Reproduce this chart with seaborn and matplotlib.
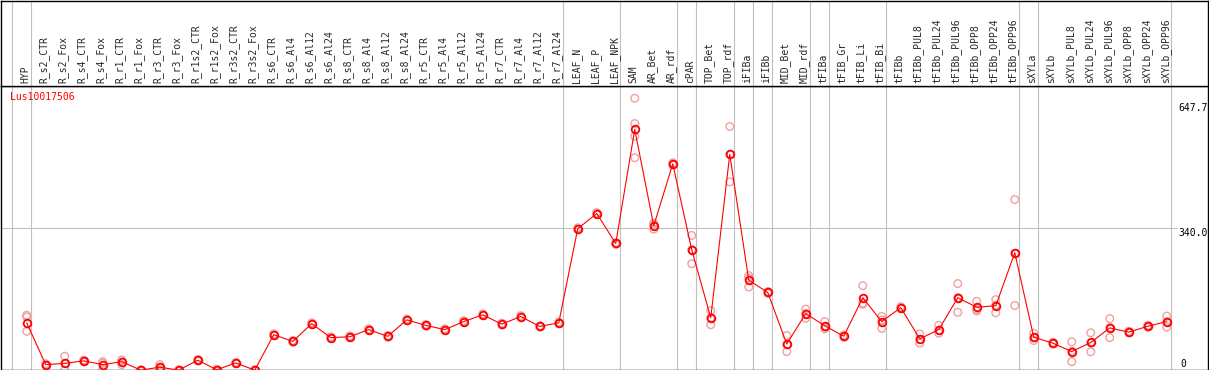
import numpy as np
import pandas as pd
import matplotlib
matplotlib.use("Agg")
import matplotlib.pyplot as plt
import seaborn as sns

# ---- data ----
gene = "Lus10017506"

samples = [
    "HYP", "R_s2_CTR", "R_s2_Fox", "R_s4_CTR", "R_s4_Fox", "R_r1_CTR", "R_r1_Fox",
    "R_r3_CTR", "R_r3_Fox", "R_r1s2_CTR", "R_r1s2_Fox", "R_r3s2_CTR", "R_r3s2_Fox",
    "R_s6_CTR", "R_s6_Al4", "R_s6_Al12", "R_s6_Al24", "R_s8_CTR", "R_s8_Al4",
    "R_s8_Al12", "R_s8_Al24", "R_r5_CTR", "R_r5_Al4", "R_r5_Al12", "R_r5_Al24",
    "R_r7_CTR", "R_r7_Al4", "R_r7_Al12", "R_r7_Al24", "LEAF_N", "LEAF_P", "LEAF_NPK",
    "SAM", "AR_Bet", "AR_rdf", "cPAR", "TOP_Bet", "TOP_rdf", "iFIBa", "iFIBb",
    "MID_Bet", "MID_rdf", "tFIBa", "tFIB_Gr", "tFIB_Li", "tFIB_Bi", "tFIBb",
    "tFIBb_PUL8", "tFIBb_PUL24", "tFIBb_PUL96", "tFIBb_OPP8", "tFIBb_OPP24",
    "tFIBb_OPP96", "sXYLa", "sXYLb", "sXYLb_PUL8", "sXYLb_PUL24", "sXYLb_PUL96",
    "sXYLb_OPP8", "sXYLb_OPP24", "sXYLb_OPP96",
]

mean_vals = [
    116, 17, 20, 26, 17, 24, 4, 11, 4, 27.5, 5, 21, 4,
    88, 72, 114, 81, 83, 100, 84, 123, 110, 100, 119, 135, 113, 131, 107.5, 116,
    339, 375, 304,
    574, 346, 492.5, 289, 128, 515, 217, 188, 66, 138, 109, 84.5,
    175.5, 119, 152, 78, 100, 175.5, 153, 156.5, 282,
    82, 68, 48, 69.5, 104, 94, 108, 119,
]

replicates = [
    [134, 130, 96], [15, 17, 19], [37, 20, 4], [24, 26, 28], [24, 20, 6],
    [28, 27, 17], [3, 4, 5], [17, 11, 5], [3, 4, 5], [26, 29, 28],
    [4, 5, 6], [20, 22, 21], [3, 4, 5], [86, 88, 90], [70, 72, 74],
    [112, 114, 116], [79, 81, 83], [81, 83, 85], [98, 100, 102], [82, 84, 86],
    [121, 123, 125], [108, 110, 112], [98, 100, 102], [117, 119, 121], [133, 135, 137],
    [111, 113, 115], [129, 131, 133], [106, 107, 109], [114, 116, 118], [337, 339, 341],
    [373, 375, 377], [302, 304, 306], [648, 588, 558, 507], [338, 352, 348], [490, 495, 492],
    [323, 256, 289], [145, 111.5, 128], [581, 450, 515], [228, 201, 222], [186, 190, 188],
    [86, 48, 64], [148.5, 127, 138], [119, 102, 106], [82, 87, 86], [204, 160, 163],
    [131, 103, 123], [150, 152, 154], [90, 68, 76], [110, 91.5, 99], [209, 141, 176],
    [167, 144, 148], [171, 140, 158], [408, 157, 281], [91.5, 74, 80], [66, 68, 70],
    [71, 24, 49], [92.5, 47.5, 68], [126, 81, 105], [92, 94, 96], [106, 108, 110],
    [132, 106, 119],
]

# group boundaries (after these sample indices)
group_ends = [-1, 0, 28, 31, 34, 35, 37, 38, 39, 41, 42, 45, 52, 53, 60]
axis_marks = ["647.7", "340.0", "0"]

# ---- tables ----
n = len(samples)
df_mean = pd.DataFrame({"pos": np.arange(n), "value": mean_vals})
df_rep = pd.DataFrame(
    [(i, v) for i, reps in enumerate(replicates) for v in reps],
    columns=["pos", "value"],
)

# ---- style ----
sns.set_style("white")
plt.rcParams["font.family"] = ["DejaVu Sans Mono"]

W, H = 1209, 370
fig = plt.figure(figsize=(W / 100, H / 100), dpi=100)

header_px = 86
bottom_px = 369.5
ax = fig.add_axes([0.5 / W, (H - bottom_px) / H, 1207.5 / W, (bottom_px - header_px) / H])
axh = fig.add_axes([0.5 / W, (H - header_px) / H, 1207.5 / W, (header_px - 0.5) / H], sharex=ax)

xlim = (-1.38, 62.17)
ylim = (5.5, 677)
grid_c = "#c0c0c0"

# separators
for b in group_ends:
    for a in (ax, axh):
        a.axvline(b + 0.2, color=grid_c, lw=0.8, zorder=0)
ax.hlines(340, xlim[0], 60.55, color=grid_c, lw=0.8, zorder=0)

# replicate points
sns.scatterplot(data=df_rep, x="pos", y="value", marker="o", s=30, ax=ax, zorder=2)
coll = ax.collections[-1]
coll.set_facecolor("none")
coll.set_edgecolor("#f0a0a0")
coll.set_linewidth(1.0)

# mean line
sns.lineplot(
    data=df_mean, x="pos", y="value", color="red", lw=0.8, marker="o",
    markersize=5.5, markerfacecolor="none", markeredgecolor="red",
    markeredgewidth=1.3, ax=ax, zorder=3,
)

ax.set_xlim(*xlim)
ax.set_ylim(*ylim)
ax.set_xticks([])
ax.set_yticks([])
ax.set_xlabel("")
ax.set_ylabel("")

# right side value labels
to_val = lambda ypx: (371.3 - ypx) / 0.4215
for txt, ypx, xpx in zip(axis_marks, [103, 228, 358], [1178, 1178, 1180]):
    ax.text((xpx - 26.7) / 19, to_val(ypx), txt, ha="left", va="top",
            fontsize=7, color="black", zorder=4)

fig.text(10 / W, 1 - 92 / H, gene, color="red", fontsize=7, ha="left", va="top")

# header labels
axh.set_ylim(0, 1)
axh.set_yticks([])
axh.tick_params(axis="x", length=0, labelbottom=False)
for i, lab in enumerate(samples):
    axh.text(i - 0.08, 0.03, lab, rotation=90, ha="center", va="bottom", fontsize=7)

for a in (ax, axh):
    for sp in a.spines.values():
        sp.set_color("black")
        sp.set_linewidth(1.0)
        sp.set_visible(True)

fig.savefig("out.png", dpi=100)
